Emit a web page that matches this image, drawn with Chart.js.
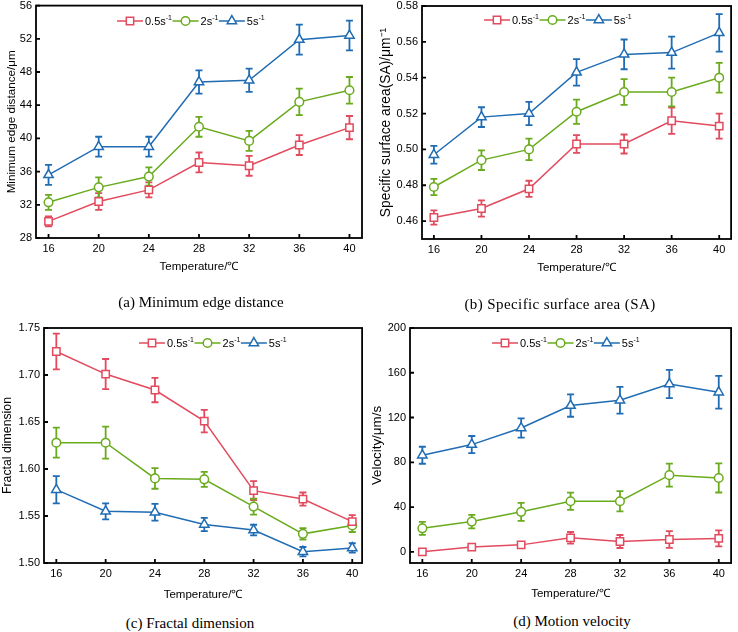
<!DOCTYPE html>
<html>
<head>
<meta charset="utf-8">
<script src="https://cdn.jsdelivr.net/npm/chart.js@4.4.1/dist/chart.umd.min.js"></script>
<style>
body { margin: 0; background: #fff; width: 738px; height: 632px; position: relative; overflow: hidden; }
.panel { position: absolute; }
.cap { position: absolute; font-family: 'Liberation Serif', 'Times New Roman', serif; font-size: 15px; line-height: 18px; white-space: nowrap; transform: translateX(-50%); color: #000; }
</style>
</head>
<body>
<div class="panel" style="left:0;top:-5px;width:369px;height:285px"><canvas id="ca" width="369" height="285"></canvas></div>
<div class="panel" style="left:369px;top:-5px;width:369px;height:285px"><canvas id="cb" width="369" height="285"></canvas></div>
<div class="panel" style="left:0;top:310px;width:369px;height:300px"><canvas id="cc" width="369" height="300"></canvas></div>
<div class="panel" style="left:369px;top:310px;width:369px;height:300px"><canvas id="cd" width="369" height="300"></canvas></div>
<div class="cap" style="left:201px;top:293px">(a) Minimum edge distance</div>
<div class="cap" style="left:560px;top:295px;letter-spacing:0.4px">(b) Specific surface area (SA)</div>
<div class="cap" style="left:190px;top:614px">(c) Fractal dimension</div>
<div class="cap" style="left:572px;top:612px">(d) Motion velocity</div>
<script>
const temps = [16, 20, 24, 28, 32, 36, 40];
const rates = ['0.5s', '2s', '5s'];

// (a) minimum edge distance, µm
const edge05 = [30.0, 32.4, 33.8, 37.1, 36.7, 39.2, 41.3];
const edge05Err = [0.6, 1.0, 0.9, 1.2, 1.2, 1.2, 1.4];
const edge2 = [32.3, 34.1, 35.4, 41.4, 39.7, 44.4, 45.8];
const edge2Err = [0.9, 1.2, 1.1, 1.2, 1.2, 1.6, 1.6];
const edge5 = [35.6, 39.0, 39.0, 46.8, 47.0, 51.9, 52.4];
const edge5Err = [1.2, 1.2, 1.2, 1.4, 1.4, 1.8, 1.8];
const edgeTicks = [28, 32, 36, 40, 44, 48, 52, 56];

// (b) specific surface area
const sa05 = [0.462, 0.467, 0.478, 0.503, 0.503, 0.516, 0.513];
const sa05Err = [0.004, 0.0045, 0.0045, 0.005, 0.0053, 0.0073, 0.007];
const sa2 = [0.479, 0.494, 0.500, 0.521, 0.532, 0.532, 0.540];
const sa2Err = [0.0045, 0.0055, 0.006, 0.0068, 0.0072, 0.008, 0.0083];
const sa5 = [0.497, 0.518, 0.520, 0.543, 0.553, 0.554, 0.565];
const sa5Err = [0.005, 0.0055, 0.0065, 0.0074, 0.0083, 0.0089, 0.0105];
const saTicks = [0.46, 0.48, 0.50, 0.52, 0.54, 0.56, 0.58];

// (c) fractal dimension
const fd05 = [1.725, 1.701, 1.684, 1.651, 1.577, 1.568, 1.544];
const fd05Err = [0.019, 0.016, 0.013, 0.012, 0.010, 0.007, 0.007];
const fd2 = [1.628, 1.628, 1.590, 1.589, 1.560, 1.531, 1.540];
const fd2Err = [0.016, 0.017, 0.011, 0.008, 0.0085, 0.006, 0.007];
const fd5 = [1.578, 1.555, 1.554, 1.541, 1.535, 1.512, 1.516];
const fd5Err = [0.0145, 0.0085, 0.009, 0.007, 0.0057, 0.005, 0.005];
const fdTicks = [1.50, 1.55, 1.60, 1.65, 1.70, 1.75];

// (d) motion velocity, µm/s
const vel05 = [0, 4.2, 6.2, 12.5, 9.2, 11, 12];
const vel05Err = [1, 1.5, 1.5, 5.2, 5.8, 7.4, 7.1];
const vel2 = [21, 27, 35.7, 45.2, 45.2, 68.5, 66];
const vel2Err = [5.8, 6, 8, 7.7, 9, 10.3, 13];
const vel5 = [86.3, 95.8, 110.7, 130.7, 135.4, 150, 142.6];
const vel5Err = [7.6, 7.7, 8.6, 10, 12, 12.6, 14.7];
const velTicks = [0, 40, 80, 120, 160, 200];

const RED = '#e24a5e', GREEN = '#6aab1e', BLUE = '#1f6cb3';
const FONT = "'Liberation Sans', Arial, sans-serif";
Chart.defaults.font.family = FONT;
Chart.defaults.color = '#000';

function drawMarker(ctx, style, x, y, r, color) {
  ctx.save();
  ctx.fillStyle = '#fff';
  ctx.strokeStyle = color;
  ctx.lineWidth = 1.5;
  ctx.beginPath();
  if (style === 'rect') {
    const s = r * Math.SQRT1_2;
    ctx.rect(x - s, y - s, 2 * s, 2 * s);
  } else if (style === 'circle') {
    ctx.arc(x, y, r, 0, Math.PI * 2);
  } else {
    const h = r * 0.866;
    ctx.moveTo(x, y - r);
    ctx.lineTo(x + h, y + r / 2);
    ctx.lineTo(x - h, y + r / 2);
    ctx.closePath();
  }
  ctx.fill();
  ctx.stroke();
  ctx.restore();
}

const errorBars = {
  id: 'errorBars',
  beforeDatasetsDraw(chart) {
    const ctx = chart.ctx, ys = chart.scales.y;
    chart.data.datasets.forEach((ds, i) => {
      const meta = chart.getDatasetMeta(i);
      ctx.save();
      ctx.strokeStyle = ds.borderColor;
      ctx.lineWidth = 1.8;
      meta.data.forEach((pt, j) => {
        const v = ds.data[j].y, e = ds.errors[j];
        const top = ys.getPixelForValue(v + e), bot = ys.getPixelForValue(v - e);
        ctx.beginPath();
        ctx.moveTo(pt.x, top); ctx.lineTo(pt.x, bot);
        ctx.moveTo(pt.x - 3.5, top); ctx.lineTo(pt.x + 3.5, top);
        ctx.moveTo(pt.x - 3.5, bot); ctx.lineTo(pt.x + 3.5, bot);
        ctx.stroke();
      });
      ctx.restore();
    });
  }
};

const frame = {
  id: 'frame',
  afterDraw(chart, args, opts) {
    const ctx = chart.ctx, a = chart.chartArea;
    const xs = chart.scales.x, ys = chart.scales.y;
    ctx.save();
    ctx.strokeStyle = '#000';
    ctx.lineWidth = 1.8;
    ctx.strokeRect(a.left, a.top, a.right - a.left, a.bottom - a.top);
    ctx.beginPath();
    xs.ticks.forEach(t => {
      const px = xs.getPixelForValue(t.value);
      ctx.moveTo(px, a.bottom); ctx.lineTo(px, a.bottom - 4);
    });
    ys.ticks.forEach(t => {
      const py = ys.getPixelForValue(t.value);
      ctx.moveTo(a.left, py); ctx.lineTo(a.left + 4, py);
    });
    ctx.stroke();

    // legend: line + marker, label with superscript
    let x = opts.lx, y = opts.ly;
    ctx.textBaseline = 'middle';
    ctx.textAlign = 'left';
    chart.data.datasets.forEach(ds => {
      ctx.strokeStyle = ds.borderColor;
      ctx.lineWidth = 1.5;
      ctx.beginPath(); ctx.moveTo(x, y); ctx.lineTo(x + 26, y); ctx.stroke();
      drawMarker(ctx, ds.pointStyle, x + 13, y, ds.pointRadius, ds.borderColor);
      x += 28;
      ctx.fillStyle = '#000';
      ctx.font = '11px ' + FONT;
      ctx.fillText(ds.label, x, y + 1);
      x += ctx.measureText(ds.label).width;
      ctx.font = '7px ' + FONT;
      ctx.fillText('-1', x, y - 3);
      x += ctx.measureText('-1').width + 0.5;
    });
    ctx.restore();
  }
};

function series(label, color, style, radius, vals, errs) {
  return {
    label: label,
    data: temps.map((t, i) => ({ x: t, y: vals[i] })),
    errors: errs,
    borderColor: color,
    borderWidth: 1.5,
    pointStyle: style,
    pointRadius: radius,
    pointHoverRadius: radius,
    pointBackgroundColor: '#fff',
    pointBorderColor: color,
    pointBorderWidth: 1.5,
    fill: false,
    tension: 0
  };
}

function makeChart(id, p) {
  new Chart(document.getElementById(id), {
    type: 'line',
    data: {
      datasets: [
        series(rates[0], RED, 'rect', 5.2, p.s1, p.e1),
        series(rates[1], GREEN, 'circle', 4.3, p.s2, p.e2),
        series(rates[2], BLUE, 'triangle', 5.4, p.s3, p.e3)
      ]
    },
    options: {
      responsive: false,
      animation: false,
      events: [],
      layout: { padding: { left: 0, top: p.top, right: p.right, bottom: 0 } },
      plugins: {
        legend: { display: false },
        tooltip: { enabled: false },
        frame: { lx: p.lx, ly: p.ly }
      },
      scales: {
        x: {
          type: 'linear', min: 15, max: p.xmax,
          afterBuildTicks: s => { s.ticks = temps.map(v => ({ value: v })); },
          afterFit: s => { s.height = p.xh; },
          grid: { display: false, drawTicks: false },
          border: { display: false },
          ticks: { font: { size: 11 }, color: '#000', padding: 4, maxRotation: 0, autoSkip: false },
          title: { display: true, text: 'Temperature/℃', font: { size: 11.5 }, color: '#000', padding: { top: 0, bottom: p.xtb } }
        },
        y: {
          type: 'linear', min: p.ymin, max: p.ymax,
          afterBuildTicks: s => { s.ticks = p.yticks.map(v => ({ value: v })); },
          afterFit: s => { s.width = p.yw; },
          grid: { display: false, drawTicks: false },
          border: { display: false },
          ticks: { font: { size: 11 }, color: '#000', padding: 4, callback: v => v.toFixed(p.dec) },
          title: { display: true, text: p.ytitle, font: { size: p.yts }, color: '#000', padding: { top: p.ytp, bottom: 0 } }
        }
      }
    },
    plugins: [errorBars, frame]
  });
}

makeChart('ca', {
  s1: edge05, e1: edge05Err, s2: edge2, e2: edge2Err, s3: edge5, e3: edge5Err,
  ymin: 28, ymax: 56, yticks: edgeTicks, dec: 0, ytitle: 'Minimum edge distance/μm',
  top: 10, right: 7, yw: 36, xh: 42, xtb: 6, yts: 11.7, ytp: 5, xmax: 41, lx: 117, ly: 26
});
makeChart('cb', {
  s1: sa05, e1: sa05Err, s2: sa2, e2: sa2Err, s3: sa5, e3: sa5Err,
  ymin: 0.45, ymax: 0.58, yticks: saTicks, dec: 2, ytitle: 'Specific surface area(SA)/μm⁻¹',
  top: 11, right: 3, yw: 53, xh: 41, xtb: 5, yts: 13.8, ytp: 8.5, xmax: 41, lx: 115, ly: 25
});
makeChart('cc', {
  s1: fd05, e1: fd05Err, s2: fd2, e2: fd2Err, s3: fd5, e3: fd5Err,
  ymin: 1.50, ymax: 1.75, yticks: fdTicks, dec: 2, ytitle: 'Fractal dimension',
  top: 18, right: 6, yw: 44, xh: 47, xtb: 8, yts: 12.3, ytp: 0, xmax: 40.8, lx: 139, ly: 33
});
makeChart('cd', {
  s1: vel05, e1: vel05Err, s2: vel2, e2: vel2Err, s3: vel5, e3: vel5Err,
  ymin: -10, ymax: 200, yticks: velTicks, dec: 0, ytitle: 'Velocity/μm/s',
  top: 18, right: 3, yw: 41, xh: 47, xtb: 9, yts: 13.4, ytp: 0, xmax: 41, lx: 123, ly: 33
});
</script>
</body>
</html>
